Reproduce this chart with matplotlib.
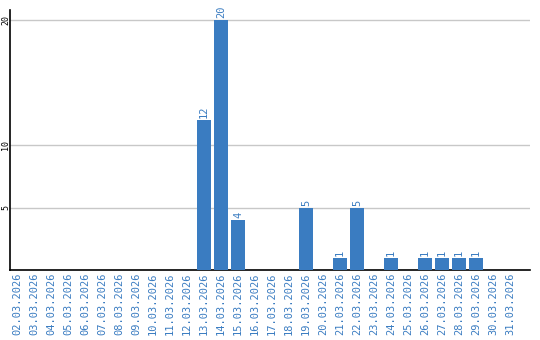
import matplotlib.pyplot as plt

# Daily counts for March 2026
dates = ['%02d.03.2026' % d for d in range(2, 32)]
counts = [0, 0, 0, 0, 0, 0, 0, 0, 0, 0, 0, 12, 20, 4, 0, 0, 0, 5, 0, 1,
          5, 0, 1, 0, 1, 1, 1, 1, 0, 0]
yticks = [5, 10, 20]

blue = '#3a7cc1'

fig = plt.figure(figsize=(5.4, 3.4), dpi=100)
ax = fig.add_axes([10 / 540, 70 / 340, 520 / 540, 260 / 340])

x = range(len(dates))
bars = ax.bar(x, counts, width=0.82, color=blue, zorder=3)

# value labels above non-empty bars
for xi, v in zip(x, counts):
    if v > 0:
        ax.text(xi, v + 0.15, str(v), rotation=90, ha='center', va='bottom',
                color=blue, fontsize=7.5, family='DejaVu Sans Mono')

ax.set_xlim(-0.41, 30.18)
ax.set_ylim(0, 20.8)
ax.set_xticks(list(x))
ax.set_xticklabels(dates, rotation=90, color=blue, fontsize=7.5,
                   family='DejaVu Sans Mono')
ax.set_yticks(yticks)
ax.set_yticklabels([str(t) for t in yticks], rotation=90, va='center',
                   fontsize=6, family='DejaVu Sans Mono')
ax.tick_params(axis='x', length=0, pad=2)
ax.tick_params(axis='y', length=0, pad=0)
ax.grid(axis='y', color='#c8c8c8', linewidth=1, zorder=0)

for s in ['top', 'right']:
    ax.spines[s].set_visible(False)
ax.spines['left'].set_linewidth(1.2)
ax.spines['bottom'].set_linewidth(1.2)

plt.savefig('out.png', dpi=100)
